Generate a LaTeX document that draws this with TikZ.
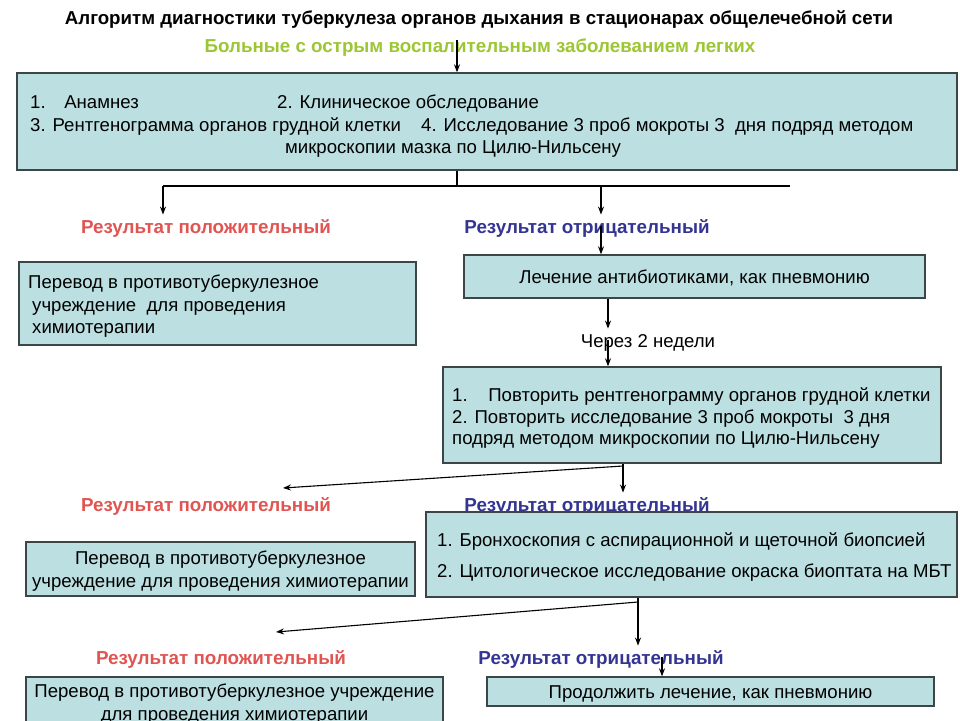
\documentclass[tikz,border=0pt]{standalone}
\usepackage{fontspec}
\setmainfont{Liberation Sans}
\usetikzlibrary{arrows.meta}

\definecolor{boxfill}{HTML}{BCE0E2}
\definecolor{boxline}{HTML}{3C4646}
\definecolor{posred}{HTML}{E05552}
\definecolor{negblue}{HTML}{343492}
\definecolor{subgreen}{HTML}{9CC633}

\newcommand{\firstline}{\rule{0pt}{18.5pt}}

\begin{document}
\begin{tikzpicture}[
    x=1pt, y=-1pt,
    block/.style={rectangle, draw=boxline, line width=1.4pt, fill=boxfill, inner sep=0pt, align=center, font=\fontsize{18.6}{23}\selectfont},
    oneline/.style={text height=18.5pt, text depth=4pt},
    txt/.style={anchor=west, inner sep=0pt, font=\fontsize{18.6}{21.5}\selectfont},
    ctxt/.style={inner sep=0pt, font=\fontsize{18.6}{21.5}\selectfont},
    posres/.style={oneline, inner sep=0pt, font=\fontsize{18.8}{21}\selectfont\bfseries, text=posred},
    negres/.style={oneline, inner sep=0pt, font=\fontsize{18.8}{21}\selectfont\bfseries, text=negblue},
    line/.style={line width=1.1pt},
    arrow/.style={line, -{Stealth[length=8pt, width=6pt]}}
]
    \useasboundingbox (0,0) rectangle (960,720);

    % Header
    \node[oneline, inner sep=0pt, font=\fontsize{18.7}{21}\selectfont\bfseries] (title) at (479,17) {Алгоритм диагностики туберкулеза органов дыхания в стационарах общелечебной сети};
    \node[oneline, inner sep=0pt, font=\fontsize{18.75}{21}\selectfont\bfseries, text=subgreen] (sub) at (480,45) {Больные с острым воспалительным заболеванием легких};

    % First examination
    \node[block, minimum width=940pt, minimum height=97pt] (exam) at (487,121.5) {};
    \node[txt, oneline] (exam1) at (30,101) {1.\hspace{18.6pt}Анамнез};
    \node[txt, oneline] (exam2) at (277,101) {2. Клиническое обследование};
    \node[txt, oneline] (exam3) at (30,124) {3. Рентгенограмма органов грудной клетки};
    \node[txt, oneline] (exam4) at (421,124) {4. Исследование 3 проб мокроты 3 \ дня подряд методом};
    \node[ctxt, oneline] (exam5) at (453,146) {микроскопии мазка по Цилю-Нильсену};

    \coordinate (s0) at (457,40);
    \draw[arrow] (s0) -- (s0 |- exam.north);

    % First result
    \coordinate (split1) at (457,186);
    \coordinate (l1) at (163,186);
    \coordinate (r1) at (790,186);
    \coordinate (n1) at (601,186);
    \draw[line] (exam.south -| split1) -- (split1);
    \draw[line] (l1) -- (r1);
    \node[posres] (pos1) at (206,226) {Результат положительный};
    \node[negres] (neg1) at (587,226) {Результат отрицательный};
    \draw[arrow] (l1) -- (l1 |- pos1.north);
    \draw[arrow] (n1) -- (n1 |- neg1.north);

    \node[block, minimum width=397pt, minimum height=83pt] (tb1) at (217.5,303.5) {};
    \node[txt, align=left, font=\fontsize{18.6}{22.5}\selectfont] (tb1t) at (28,304) {\firstline Перевод в противотуберкулезное\\\hspace{4pt}учреждение \ для проведения\\\hspace{4pt}химиотерапии};

    \node[block, oneline, minimum width=461pt, minimum height=43pt] (abx) at (694.5,276.5) {Лечение антибиотиками, как пневмонию};
    \draw[arrow] (neg1.center -| n1) -- (n1 |- abx.north);

    \node[ctxt, oneline] (wait) at (648,340) {Через 2 недели};
    \coordinate (w) at (608,0);
    \draw[arrow] (abx.south -| w) -- (w |- wait.north);

    % Repeat examination
    \node[block, minimum width=498pt, minimum height=96pt] (rep) at (692,415) {};
    \node[txt, align=left] (rept) at (452,416) {\firstline 1.\hspace{20.6pt}Повторить рентгенограмму органов грудной клетки\\2. Повторить исследование 3 проб мокроты \ 3 дня\\подряд методом микроскопии по Цилю-Нильсену};
    \draw[arrow] (wait.center -| w) -- (w |- rep.north);

    % Second result
    \coordinate (r2) at (623,466);
    \coordinate (p2) at (283,488);
    \node[posres] (pos2) at (206,504) {Результат положительный};
    \node[negres] (neg2) at (587,504) {Результат отрицательный};
    \draw[arrow] (rep.south -| r2) -- (r2 |- neg2.north);
    \draw[arrow] (r2) -- (p2);

    \node[block, minimum width=389pt, minimum height=54pt] (tb2) at (220.5,569) {\firstline Перевод в противотуберкулезное\\учреждение для проведения химиотерапии};

    \node[block, minimum width=531pt, minimum height=85pt] (bron) at (691.5,554.5) {};
    \node[txt, oneline] (bron1) at (437,539) {1. Бронхоскопия с аспирационной и щеточной биопсией};
    \node[txt, oneline] (bron2) at (437,570) {2. Цитологическое исследование окраска биоптата на МБТ};

    % Third result
    \coordinate (r3) at (638,602);
    \coordinate (p3) at (276,632);
    \node[posres] (pos3) at (221,657) {Результат положительный};
    \node[negres] (neg3) at (601,657) {Результат отрицательный};
    \draw[arrow] (bron.south -| r3) -- (r3 |- neg3.north);
    \draw[arrow] (r3) -- (p3);

    \node[block, minimum width=417pt, minimum height=49pt] (tb3) at (234.5,701.5) {\firstline Перевод в противотуберкулезное учреждение\\для проведения химиотерапии};

    \coordinate (c4) at (662,0);
    \node[block, oneline, minimum width=447pt, minimum height=29pt] (cont) at (710.5,691.5) {Продолжить лечение, как пневмонию};
    \draw[arrow] (neg3.center -| c4) -- (c4 |- cont.north);
\end{tikzpicture}
\end{document}
